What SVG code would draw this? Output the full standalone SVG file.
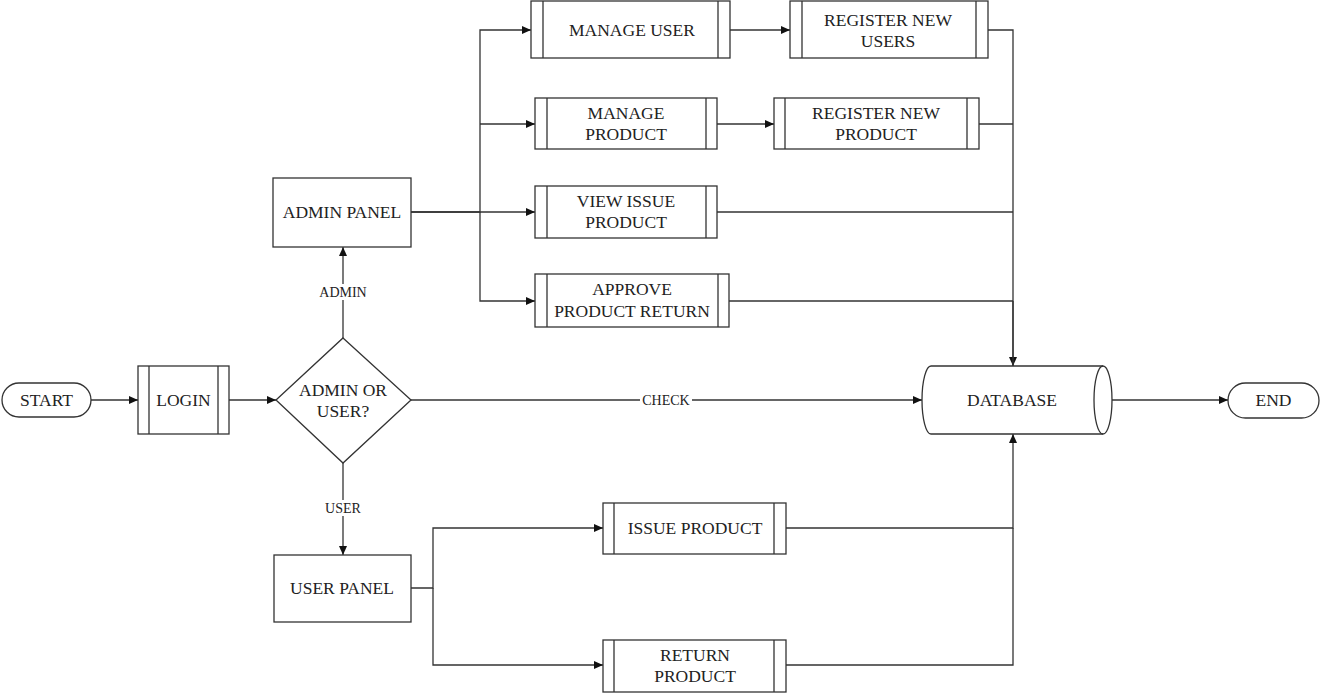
<svg xmlns="http://www.w3.org/2000/svg" width="1321" height="695" viewBox="0 0 1321 695">
<style>
.box{fill:#fff;stroke:#333;stroke-width:1.3}
.inner{stroke:#333;stroke-width:1.3;fill:none}
.t{font-family:'Liberation Serif','Times New Roman',serif;font-size:17.5px;fill:#222;text-anchor:middle}
.lbl{font-family:'Liberation Serif','Times New Roman',serif;font-size:14px;fill:#222;text-anchor:middle}
.c{fill:none;stroke:#333;stroke-width:1.3}
</style>
<defs>
<marker id="ah" markerUnits="userSpaceOnUse" markerWidth="10" markerHeight="8" refX="9" refY="4" orient="auto">
<path d="M0,0 L9,4 L0,8 Z" fill="#111"/>
</marker>
</defs>
<rect width="1321" height="695" fill="#fff"/>

<g id="connectors">
<path class="c" d="M91,400 H138" marker-end="url(#ah)"/>
<path class="c" d="M229,400 H276" marker-end="url(#ah)"/>
<path class="c" d="M343,338 V247" marker-end="url(#ah)"/>
<path class="c" d="M343,463 V555" marker-end="url(#ah)"/>
<path class="c" d="M411,400 H922" marker-end="url(#ah)"/>
<path class="c" d="M411,212 H480 V30 H531" marker-end="url(#ah)"/>
<path class="c" d="M480,124 H535" marker-end="url(#ah)"/>
<path class="c" d="M411,212 H535" stroke-width="2" marker-end="url(#ah)"/>
<path class="c" d="M480,212 V301 H535" marker-end="url(#ah)"/>
<path class="c" d="M730,30 H790" marker-end="url(#ah)"/>
<path class="c" d="M717,124 H774" marker-end="url(#ah)"/>
<path class="c" d="M988,30 H1013 V366" marker-end="url(#ah)"/>
<path class="c" d="M979,124 H1013"/>
<path class="c" d="M717,212 H1013"/>
<path class="c" d="M729,301 H1013"/>
<path class="c" d="M1013,301 V366" stroke-width="2"/>
<path class="c" d="M411,588 H433 V528 H603" marker-end="url(#ah)"/>
<path class="c" d="M433,588 V665 H603" marker-end="url(#ah)"/>
<path class="c" d="M786,528 H1013 V434" marker-end="url(#ah)"/>
<path class="c" d="M786,665 H1013 V528"/>
<path class="c" d="M1103,400 H1228" marker-end="url(#ah)"/>
<rect x="315" y="284" width="56" height="16" fill="#fff"/>
<text class="lbl" x="343" y="297">ADMIN</text>
<rect x="320" y="500" width="46" height="16" fill="#fff"/>
<text class="lbl" x="343" y="513">USER</text>
<rect x="640" y="392" width="52" height="16" fill="#fff"/>
<text class="lbl" x="666" y="405">CHECK</text>
</g>

<g id="start">
<rect class="box" x="2" y="383" width="89" height="34" rx="17"/>
<text class="t" x="46.5" y="406">START</text>
</g>

<g id="login">
<rect class="box" x="138" y="366" width="91" height="68"/>
<path class="inner" d="M149,366 V434 M218,366 V434"/>
<text class="t" x="183.5" y="406">LOGIN</text>
</g>

<g id="decision">
<path class="box" d="M343,338 L411,400 L343,463 L276,400 Z"/>
<text class="t" x="343" y="396">ADMIN OR</text>
<text class="t" x="343" y="417">USER?</text>
</g>

<g id="admin-panel">
<rect class="box" x="273" y="178" width="138" height="69"/>
<text class="t" x="342" y="218">ADMIN PANEL</text>
</g>

<g id="user-panel">
<rect class="box" x="274" y="555" width="137" height="67"/>
<text class="t" x="342" y="594">USER PANEL</text>
</g>

<g id="manage-user">
<rect class="box" x="531" y="1" width="199" height="57"/>
<path class="inner" d="M543,1 V58 M718,1 V58"/>
<text class="t" x="632" y="36">MANAGE USER</text>
</g>

<g id="register-new-users">
<rect class="box" x="790" y="1" width="198" height="57"/>
<path class="inner" d="M802,1 V58 M976,1 V58"/>
<text class="t" x="888" y="26">REGISTER NEW</text>
<text class="t" x="888" y="47">USERS</text>
</g>

<g id="manage-product">
<rect class="box" x="535" y="98" width="182" height="51"/>
<path class="inner" d="M547,98 V149 M706,98 V149"/>
<text class="t" x="626" y="119">MANAGE</text>
<text class="t" x="626" y="140">PRODUCT</text>
</g>

<g id="register-new-product">
<rect class="box" x="774" y="98" width="205" height="51"/>
<path class="inner" d="M785,98 V149 M967,98 V149"/>
<text class="t" x="876" y="119">REGISTER NEW</text>
<text class="t" x="876" y="140">PRODUCT</text>
</g>

<g id="view-issue-product">
<rect class="box" x="535" y="186" width="182" height="52"/>
<path class="inner" d="M547,186 V238 M706,186 V238"/>
<text class="t" x="626" y="207">VIEW ISSUE</text>
<text class="t" x="626" y="228">PRODUCT</text>
</g>

<g id="approve-product-return">
<rect class="box" x="535" y="274" width="194" height="53"/>
<path class="inner" d="M547,274 V327 M718,274 V327"/>
<text class="t" x="632" y="295">APPROVE</text>
<text class="t" x="632" y="317">PRODUCT RETURN</text>
</g>

<g id="issue-product">
<rect class="box" x="603" y="503" width="183" height="51"/>
<path class="inner" d="M614,503 V554 M774,503 V554"/>
<text class="t" x="695" y="534">ISSUE PRODUCT</text>
</g>

<g id="return-product">
<rect class="box" x="603" y="640" width="183" height="52"/>
<path class="inner" d="M614,640 V692 M774,640 V692"/>
<text class="t" x="695" y="661">RETURN</text>
<text class="t" x="695" y="682">PRODUCT</text>
</g>

<g id="database">
<path class="box" d="M931,366 H1103 A9,34 0 0 1 1103,434 H931 A9,34 0 0 1 931,366 Z"/>
<path class="inner" d="M1103,366 A9,34 0 0 0 1103,434"/>
<text class="t" x="1012" y="406">DATABASE</text>
</g>

<g id="end">
<rect class="box" x="1228" y="383" width="91" height="35" rx="17.5"/>
<text class="t" x="1273.5" y="406">END</text>
</g>
</svg>
